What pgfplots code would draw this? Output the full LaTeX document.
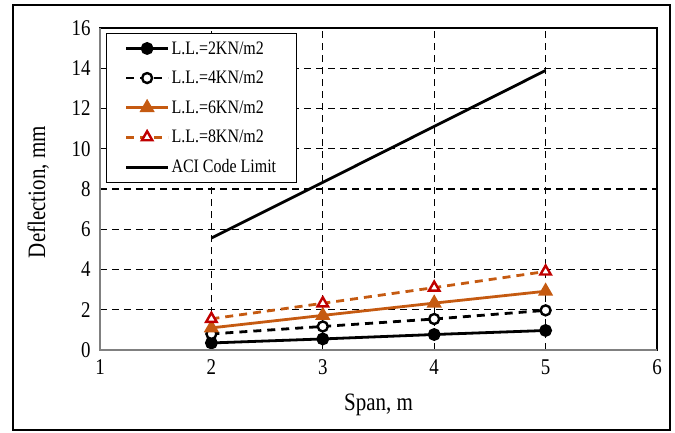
\documentclass[border=0pt]{standalone}
\usepackage{fontspec}
\setmainfont[FakeStretch=0.84]{Liberation Serif}
\usepackage{pgfplots}
\pgfplotsset{compat=1.18}
\definecolor{llorange}{HTML}{C55A11}
\definecolor{llred}{HTML}{C00000}
\begin{document}
\begin{tikzpicture}
\useasboundingbox (-100pt,-82pt) rectangle (575pt,350pt);
\draw[line width=1.2pt] (-87pt,-80pt) rectangle (570pt,345pt);
\begin{axis}[
    at={(0pt,0pt)}, anchor=south west,
    scale only axis, width=557pt, height=322pt,
    xmin=1, xmax=6, ymin=0, ymax=16,
    xtick={1,2,...,6}, ytick={0,2,...,16},
    grid=major,
    major grid style={black, dash pattern=on 7pt off 5pt, line width=1.2pt},
    axis line style={black, line width=1.3pt},
    tick align=inside, tick pos=left,
    major tick length=6pt,
    tick style={black, line width=1.2pt},
    ticklabel style={font=\fontsize{22.5}{24}\selectfont},
    xticklabel style={yshift=-6pt},
    yticklabel style={xshift=-6pt},
    /pgf/number format/assume math mode=true,
    xlabel={Span, m},
    ylabel={Deflection, mm},
    label style={font=\fontsize{25}{27}\selectfont},
    xlabel style={at={(axis description cs:0.5,-0.171)}, anchor=center},
    ylabel style={at={(axis description cs:-0.111,0.49)}, anchor=center},
    legend cell align=left,
    legend style={at={(axis description cs:0.011,0.985)}, anchor=north west,
        draw=black, line width=1.2pt, font=\fontsize{19}{21}\selectfont,
        row sep=11.5pt, inner xsep=18pt, inner ysep=6pt},
    legend image code/.code={
        \draw[mark repeat=2, mark phase=2] plot coordinates {(0pt,0pt)(21pt,0pt)(42pt,0pt)};
    },
]
\addplot[black, line width=2.8pt, mark=*, mark size=5pt, mark options={solid}]
    coordinates {(2,0.35) (3,0.55) (4,0.77) (5,0.97)};
\addlegendentry{L.L.=2KN/m2\hspace{34pt}}
\addplot[black, line width=2.8pt, dash pattern=on 8pt off 6pt, mark=*, mark size=5pt,
    mark options={solid, fill=white, line width=2.4pt}]
    coordinates {(2,0.8) (3,1.17) (4,1.54) (5,1.97)};
\addlegendentry{L.L.=4KN/m2\hspace{34pt}}
\addplot[llorange, line width=2.8pt, mark=triangle*, mark size=6pt, mark options={solid}]
    coordinates {(2,1.1) (3,1.72) (4,2.33) (5,2.92)};
\addlegendentry{L.L.=6KN/m2\hspace{34pt}}
\addplot[llorange, line width=2.8pt, dash pattern=on 8pt off 6pt, mark=triangle*, mark size=6pt,
    mark options={solid, draw=llred, fill=white, line width=2.4pt}]
    coordinates {(2,1.55) (3,2.32) (4,3.1) (5,3.9)};
\addlegendentry{L.L.=8KN/m2\hspace{34pt}}
\addplot[black, line width=2.8pt] coordinates {(2,5.56) (3,8.33) (4,11.11) (5,13.89)};
\addlegendentry{ACI Code Limit\hspace{34pt}}
\end{axis}
\draw[gray, line width=1.3pt] (0pt,322pt) -- (0pt,0pt) -- (557pt,0pt);
\end{tikzpicture}
\end{document}
